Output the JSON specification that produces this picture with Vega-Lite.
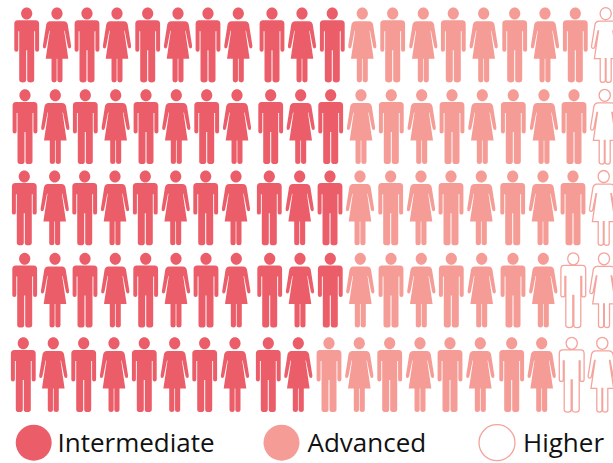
{
  "$schema": "https://vega.github.io/schema/vega-lite/v6.json",
  "width": 613,
  "height": 463,
  "padding": 0,
  "autosize": {"type": "none"},
  "background": "white",
  "config": {"view": {"stroke": null}, "font": "Open Sans"},
  "datasets": {
    "people": [
      {"row":1,"col":1,"person":"man","level":"Intermediate"},{"row":1,"col":2,"person":"woman","level":"Intermediate"},{"row":1,"col":3,"person":"man","level":"Intermediate"},{"row":1,"col":4,"person":"woman","level":"Intermediate"},{"row":1,"col":5,"person":"man","level":"Intermediate"},{"row":1,"col":6,"person":"woman","level":"Intermediate"},{"row":1,"col":7,"person":"man","level":"Intermediate"},{"row":1,"col":8,"person":"woman","level":"Intermediate"},{"row":1,"col":9,"person":"man","level":"Intermediate"},{"row":1,"col":10,"person":"woman","level":"Intermediate"},{"row":1,"col":11,"person":"man","level":"Intermediate"},{"row":1,"col":12,"person":"woman","level":"Advanced"},{"row":1,"col":13,"person":"man","level":"Advanced"},{"row":1,"col":14,"person":"woman","level":"Advanced"},{"row":1,"col":15,"person":"man","level":"Advanced"},{"row":1,"col":16,"person":"woman","level":"Advanced"},{"row":1,"col":17,"person":"man","level":"Advanced"},{"row":1,"col":18,"person":"woman","level":"Advanced"},{"row":1,"col":19,"person":"man","level":"Advanced"},{"row":1,"col":20,"person":"woman","level":"Higher"},
      {"row":2,"col":1,"person":"man","level":"Intermediate"},{"row":2,"col":2,"person":"woman","level":"Intermediate"},{"row":2,"col":3,"person":"man","level":"Intermediate"},{"row":2,"col":4,"person":"woman","level":"Intermediate"},{"row":2,"col":5,"person":"man","level":"Intermediate"},{"row":2,"col":6,"person":"woman","level":"Intermediate"},{"row":2,"col":7,"person":"man","level":"Intermediate"},{"row":2,"col":8,"person":"woman","level":"Intermediate"},{"row":2,"col":9,"person":"man","level":"Intermediate"},{"row":2,"col":10,"person":"woman","level":"Intermediate"},{"row":2,"col":11,"person":"man","level":"Intermediate"},{"row":2,"col":12,"person":"woman","level":"Advanced"},{"row":2,"col":13,"person":"man","level":"Advanced"},{"row":2,"col":14,"person":"woman","level":"Advanced"},{"row":2,"col":15,"person":"man","level":"Advanced"},{"row":2,"col":16,"person":"woman","level":"Advanced"},{"row":2,"col":17,"person":"man","level":"Advanced"},{"row":2,"col":18,"person":"woman","level":"Advanced"},{"row":2,"col":19,"person":"man","level":"Advanced"},{"row":2,"col":20,"person":"woman","level":"Higher"},
      {"row":3,"col":1,"person":"man","level":"Intermediate"},{"row":3,"col":2,"person":"woman","level":"Intermediate"},{"row":3,"col":3,"person":"man","level":"Intermediate"},{"row":3,"col":4,"person":"woman","level":"Intermediate"},{"row":3,"col":5,"person":"man","level":"Intermediate"},{"row":3,"col":6,"person":"woman","level":"Intermediate"},{"row":3,"col":7,"person":"man","level":"Intermediate"},{"row":3,"col":8,"person":"woman","level":"Intermediate"},{"row":3,"col":9,"person":"man","level":"Intermediate"},{"row":3,"col":10,"person":"woman","level":"Intermediate"},{"row":3,"col":11,"person":"man","level":"Intermediate"},{"row":3,"col":12,"person":"woman","level":"Advanced"},{"row":3,"col":13,"person":"man","level":"Advanced"},{"row":3,"col":14,"person":"woman","level":"Advanced"},{"row":3,"col":15,"person":"man","level":"Advanced"},{"row":3,"col":16,"person":"woman","level":"Advanced"},{"row":3,"col":17,"person":"man","level":"Advanced"},{"row":3,"col":18,"person":"woman","level":"Advanced"},{"row":3,"col":19,"person":"man","level":"Advanced"},{"row":3,"col":20,"person":"woman","level":"Higher"},
      {"row":4,"col":1,"person":"man","level":"Intermediate"},{"row":4,"col":2,"person":"woman","level":"Intermediate"},{"row":4,"col":3,"person":"man","level":"Intermediate"},{"row":4,"col":4,"person":"woman","level":"Intermediate"},{"row":4,"col":5,"person":"man","level":"Intermediate"},{"row":4,"col":6,"person":"woman","level":"Intermediate"},{"row":4,"col":7,"person":"man","level":"Intermediate"},{"row":4,"col":8,"person":"woman","level":"Intermediate"},{"row":4,"col":9,"person":"man","level":"Intermediate"},{"row":4,"col":10,"person":"woman","level":"Intermediate"},{"row":4,"col":11,"person":"man","level":"Intermediate"},{"row":4,"col":12,"person":"woman","level":"Advanced"},{"row":4,"col":13,"person":"man","level":"Advanced"},{"row":4,"col":14,"person":"woman","level":"Advanced"},{"row":4,"col":15,"person":"man","level":"Advanced"},{"row":4,"col":16,"person":"woman","level":"Advanced"},{"row":4,"col":17,"person":"man","level":"Advanced"},{"row":4,"col":18,"person":"woman","level":"Advanced"},{"row":4,"col":19,"person":"man","level":"Higher"},{"row":4,"col":20,"person":"woman","level":"Higher"},
      {"row":5,"col":1,"person":"man","level":"Intermediate"},{"row":5,"col":2,"person":"woman","level":"Intermediate"},{"row":5,"col":3,"person":"man","level":"Intermediate"},{"row":5,"col":4,"person":"woman","level":"Intermediate"},{"row":5,"col":5,"person":"man","level":"Intermediate"},{"row":5,"col":6,"person":"woman","level":"Intermediate"},{"row":5,"col":7,"person":"man","level":"Intermediate"},{"row":5,"col":8,"person":"woman","level":"Intermediate"},{"row":5,"col":9,"person":"man","level":"Intermediate"},{"row":5,"col":10,"person":"woman","level":"Intermediate"},{"row":5,"col":11,"person":"man","level":"Advanced"},{"row":5,"col":12,"person":"woman","level":"Advanced"},{"row":5,"col":13,"person":"man","level":"Advanced"},{"row":5,"col":14,"person":"woman","level":"Advanced"},{"row":5,"col":15,"person":"man","level":"Advanced"},{"row":5,"col":16,"person":"woman","level":"Advanced"},{"row":5,"col":17,"person":"man","level":"Advanced"},{"row":5,"col":18,"person":"woman","level":"Advanced"},{"row":5,"col":19,"person":"man","level":"Higher"},{"row":5,"col":20,"person":"woman","level":"Higher"}
    ],
    "key": [
      {"row":6,"col":1,"person":"man","level":"Intermediate"},
      {"row":6,"col":2,"person":"man","level":"Advanced"},
      {"row":6,"col":3,"person":"man","level":"Higher"}
    ]
  },
  "data": {"name": "people"},
  "encoding": {
    "y": {"field": "row", "type": "quantitative", "axis": null, "scale": {"domain": [1,2,3,4,5,6], "range": [44.8,126.5,207.7,290,374.5,442.7], "zero": false, "nice": false}},
    "shape": {"field": "person", "type": "nominal", "legend": null, "scale": {"domain": ["man","woman"], "range": [
      "M-5.6,-31.2A5.6,6,0,1,1,5.6,-31.2A5.6,6,0,1,1,-5.6,-31.2ZM-9,-24.6L9,-24.6Q12.4,-24.6,12.4,-21L12.4,5Q12.4,6.9,10.4,6.9Q8.4,6.9,8.4,5L8.4,-13.5L7.5,-13.5L7.5,35Q7.5,37.6,3.8,37.6Q0.5,37.6,0.5,35L0.5,5.5L-0.5,5.5L-0.5,35Q-0.5,37.6,-3.8,37.6Q-7.5,37.6,-7.5,35L-7.5,-13.5L-8.4,-13.5L-8.4,5Q-8.4,6.9,-10.4,6.9Q-12.4,6.9,-12.4,5L-12.4,-21Q-12.4,-24.6,-9,-24.6Z",
      "M-5.6,-31.2A5.6,6,0,1,1,5.6,-31.2A5.6,6,0,1,1,-5.6,-31.2ZM-7,-23.6L7,-23.6Q9.7,-23.6,10.7,-20.5L14.1,1Q14.3,3.6,12.6,3.6Q11.2,3.6,10.8,1.6L7.7,-14L7.2,-14L11.3,13.9L5.5,13.9L5.5,35.5Q5.5,37.6,2.9,37.6Q0.35,37.6,0.35,35.5L0.35,13.9L-0.35,13.9L-0.35,35.5Q-0.35,37.6,-2.9,37.6Q-5.5,37.6,-5.5,35.5L-5.5,13.9L-11.3,13.9L-7.2,-14L-7.7,-14L-10.8,1.6Q-11.2,3.6,-12.6,3.6Q-14.3,3.6,-14.1,1L-10.7,-20.5Q-9.7,-23.6,-7,-23.6Z"
    ]}},
    "fill": {"field": "level", "type": "nominal", "legend": null,
      "scale": {"domain": ["Intermediate","Advanced","Higher"], "range": ["#EB5E69","#F49C95","#FFFFFF"]}},
    "stroke": {"field": "level", "type": "nominal", "legend": null,
      "scale": {"domain": ["Intermediate","Advanced","Higher"], "range": ["transparent","transparent","#F4A49C"]}}
  },
  "layer": [
    {"transform": [{"filter": "datum.row === 1"}],
     "mark": {"type": "point", "filled": true, "size": 4, "strokeWidth": 1.3, "opacity": 1},
     "encoding": {"x": {"field": "col", "type": "quantitative", "axis": null, "scale": {"domain": [1,2,3,4,5,6,7,8,9,10,11,12,13,14,15,16,17,18,19,20], "range": [26.7,57,87,117,147.7,178,208,238.3,272,302,332.3,362.3,392.7,423.3,453.3,483.7,514.7,545,575.3,605.7], "zero": false, "nice": false}}}},
    {"transform": [{"filter": "datum.row === 2"}],
     "mark": {"type": "point", "filled": true, "size": 4, "strokeWidth": 1.3, "opacity": 1},
     "encoding": {"x": {"field": "col", "type": "quantitative", "axis": null, "scale": {"domain": [1,2,3,4,5,6,7,8,9,10,11,12,13,14,15,16,17,18,19,20], "range": [25,55.3,85.3,115.7,146,176.3,206.7,237,270.7,300.7,330.7,361,391.3,421.7,452,482.3,513.3,544,574,604.7], "zero": false, "nice": false}}}},
    {"transform": [{"filter": "datum.row === 3"}],
     "mark": {"type": "point", "filled": true, "size": 4, "strokeWidth": 1.3, "opacity": 1},
     "encoding": {"x": {"field": "col", "type": "quantitative", "axis": null, "scale": {"domain": [1,2,3,4,5,6,7,8,9,10,11,12,13,14,15,16,17,18,19,20], "range": [24.3,54.7,84.7,115,145.3,175.7,205.7,236,269.3,299.7,330,360,390.7,421,451,481.3,512.7,543,573,603.7], "zero": false, "nice": false}}}},
    {"transform": [{"filter": "datum.row === 4"}],
     "mark": {"type": "point", "filled": true, "size": 4, "strokeWidth": 1.3, "opacity": 1},
     "encoding": {"x": {"field": "col", "type": "quantitative", "axis": null, "scale": {"domain": [1,2,3,4,5,6,7,8,9,10,11,12,13,14,15,16,17,18,19,20], "range": [24.7,55,85,115.3,145.7,176,206,236.3,269.7,300,330.3,360.3,391,421.3,451.3,481.7,513,543.3,573.3,604], "zero": false, "nice": false}}}},
    {"transform": [{"filter": "datum.row === 5"}],
     "mark": {"type": "point", "filled": true, "size": 4, "strokeWidth": 1.3, "opacity": 1},
     "encoding": {"x": {"field": "col", "type": "quantitative", "axis": null, "scale": {"domain": [1,2,3,4,5,6,7,8,9,10,11,12,13,14,15,16,17,18,19,20], "range": [23.3,53.3,83.7,114,144.3,174.7,204.7,235,268.3,298.3,329,359.3,389.7,420,450,480.3,511.7,541.7,571.7,602.3], "zero": false, "nice": false}}}},
    {"data": {"name": "key"},
     "mark": {"type": "point", "filled": true, "size": 1296, "strokeWidth": 1.3, "opacity": 1},
     "encoding": {
       "x": {"field": "col", "type": "quantitative", "axis": null, "scale": {"domain": [1,2,3], "range": [33.7,281.5,497], "zero": false, "nice": false}},
       "shape": {"value": "circle"}
     }},
    {"data": {"name": "key"},
     "mark": {"type": "text", "align": "left", "baseline": "alphabetic", "font": "Open Sans", "fontSize": 26, "dy": 9},
     "encoding": {
       "x": {"field": "col", "type": "quantitative", "axis": null, "scale": {"domain": [1,2,3], "range": [57.5,307.5,523], "zero": false, "nice": false}},
       "text": {"field": "level"},
       "fill": {"value": "#111111"},
       "stroke": {"value": null},
       "shape": {"value": null}
     }}
  ],
  "resolve": {"scale": {"x": "independent"}}
}
